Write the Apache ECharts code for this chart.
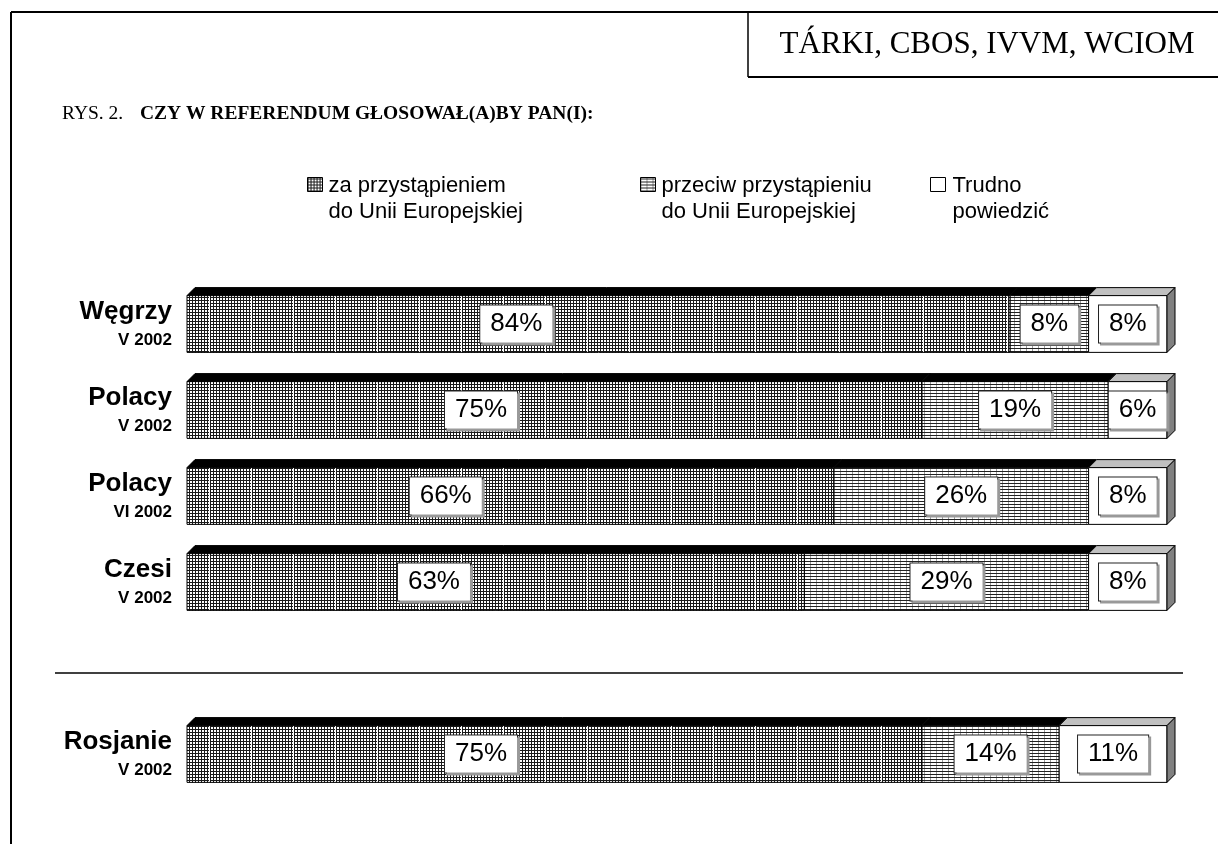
<!DOCTYPE html>
<html>
<head>
<meta charset="utf-8">
<script src="https://cdn.jsdelivr.net/npm/echarts@6/dist/echarts.min.js"></script>
<style>html,body{margin:0;padding:0;background:#fff;}#c{width:1218px;height:844px;}</style>
</head>
<body>
<div id="c"></div>
<script>
// ---- data ----
var countries = ['Węgrzy', 'Polacy', 'Polacy', 'Czesi', '', 'Rosjanie'];
var dates = ['V 2002', 'V 2002', 'VI 2002', 'V 2002', '', 'V 2002'];
var zaValues = [84, 75, 66, 63, null, 75];
var przeciwValues = [8, 19, 26, 29, null, 14];
var trudnoValues = [8, 6, 8, 8, null, 11];
var seriesNames = ['za przystąpieniem\ndo Unii Europejskiej', 'przeciw przystąpieniu\ndo Unii Europejskiej', 'Trudno\npowiedzić'];
var titleNum = 'RYS. 2.';
var titleText = 'CZY W REFERENDUM GŁOSOWAŁ(A)BY PAN(I):';
var sourceText = 'TÁRKI, CBOS, IVVM, WCIOM';

// ---- patterns ----
function makePattern1() {
  var c = document.createElement('canvas'); c.width = 42; c.height = 3;
  var g = c.getContext('2d');
  g.fillStyle = '#fff'; g.fillRect(0, 0, 42, 3);
  g.fillStyle = '#1a1a1a';
  for (var x = 0; x < 41; x++) { if (x % 3 === 0) g.fillRect(x, 0, 1, 3); }
  g.fillRect(0, 0, 41, 1);
  return c;
}
function makePattern2() {
  var c = document.createElement('canvas'); c.width = 6; c.height = 3;
  var g = c.getContext('2d');
  g.fillStyle = '#fff'; g.fillRect(0, 0, 6, 3);
  g.fillStyle = '#9a9a9a'; g.fillRect(0, 0, 1, 3);
  g.fillStyle = '#222'; g.fillRect(0, 0, 6, 1);
  return c;
}
var pat1 = { image: makePattern1(), repeat: 'repeat' };
var pat2 = { image: makePattern2(), repeat: 'repeat' };

var categories = countries.map(function (c, i) { return c + '|' + dates[i]; });

function buildData(vals, offsets) {
  var out = [];
  for (var i = 0; i < vals.length; i++) {
    if (vals[i] == null) continue;
    var s = offsets ? offsets[i] : 0;
    out.push([i, s, s + vals[i], vals[i]]);
  }
  return out;
}
var off2 = zaValues.map(function (v) { return v; });
var off3 = zaValues.map(function (v, i) { return v == null ? null : v + przeciwValues[i]; });

var FONT = '"Liberation Sans", Arial, sans-serif';
var SERIF = '"Liberation Serif", "Times New Roman", serif';

function makeRender(fill, topColor, isLast, frac) {
  return function (params, api) {
    var cat = api.value(0), s = api.value(1), e = api.value(2), v = api.value(3);
    var p0 = api.coord([s, cat]), p1 = api.coord([e, cat]);
    var h = api.size([0, 1])[1] * 0.66;
    var d = 8;
    var x0 = p0[0], x1 = p1[0], yc = p0[1], yt = yc - h / 2;
    var children = [
      { type: 'polygon', shape: { points: [[x0, yt], [x1, yt], [x1 + d, yt - d], [x0 + d, yt - d]] },
        style: { fill: topColor, stroke: '#000', lineWidth: 1 } },
      { type: 'rect', shape: { x: x0, y: yt, width: x1 - x0, height: h },
        style: { fill: fill, stroke: '#000', lineWidth: 1 } }
    ];
    if (isLast) {
      children.push({ type: 'polygon', shape: { points: [[x1, yt], [x1 + d, yt - d], [x1 + d, yt + h - d], [x1, yt + h]] },
        style: { fill: '#808080', stroke: '#000', lineWidth: 1 } });
    }
    children.push({ type: 'text', style: {
      text: v + '%', x: x0 + (x1 - x0) * frac, y: yc, align: 'center', verticalAlign: 'middle',
      font: '26px ' + FONT, lineHeight: 28, fill: '#000', backgroundColor: '#fff', borderColor: '#222', borderWidth: 1,
      padding: [5, 10, 4, 10], shadowColor: '#999', shadowOffsetX: 2, shadowOffsetY: 2, shadowBlur: 0
    } });
    return { type: 'group', children: children };
  };
}

var chart = echarts.init(document.getElementById('c'), null, { renderer: 'canvas' });

var legendIcon = 'path://M0,0 M0,52 M0,5h15v14h-15z';
function legendFor(name, left, textGap) {
  return {
    data: [{ name: name, icon: legendIcon }], left: left, top: 172, orient: 'horizontal', padding: 0,
    itemWidth: 15, itemHeight: 52, itemGap: 0, selectedMode: false,
    textStyle: { fontFamily: FONT, fontSize: 22, color: '#000', lineHeight: 26, padding: [0, 0, 0, textGap] },
    itemStyle: { borderColor: '#000', borderWidth: 1 }
  };
}

chart.setOption({
  animation: false,
  backgroundColor: '#fff',
  grid: { left: 187, right: 51, top: 281, bottom: 47, containLabel: false },
  legend: [legendFor(seriesNames[0], 307, 1), legendFor(seriesNames[1], 640, 1), legendFor(seriesNames[2], 930, 2)],
  xAxis: { type: 'value', min: 0, max: 100, show: false },
  yAxis: {
    type: 'category', data: categories, inverse: true,
    axisLine: { show: false }, axisTick: { show: false }, splitLine: { show: false },
    axisLabel: {
      margin: 15, align: 'right',
      formatter: function (val) {
        var parts = val.split('|');
        if (!parts[0]) return '';
        return '{a|' + parts[0] + '}\n{b|' + parts[1] + '}';
      },
      rich: {
        a: { fontFamily: FONT, fontWeight: 'bold', fontSize: 26, color: '#000', lineHeight: 32, align: 'right' },
        b: { fontFamily: FONT, fontWeight: 'bold', fontSize: 17, color: '#000', lineHeight: 24, align: 'right' }
      }
    }
  },
  series: [
    { type: 'custom', name: seriesNames[0], itemStyle: { color: pat1 }, renderItem: makeRender(pat1, '#000', false, 0.4),
      encode: { x: [1, 2], y: 0 }, data: buildData(zaValues, null) },
    { type: 'custom', name: seriesNames[1], itemStyle: { color: pat2 }, renderItem: makeRender(pat2, '#000', false, 0.5),
      encode: { x: [1, 2], y: 0 }, data: buildData(przeciwValues, off2) },
    { type: 'custom', name: seriesNames[2], itemStyle: { color: '#fff' }, renderItem: makeRender('#fff', '#c0c0c0', true, 0.5),
      encode: { x: [1, 2], y: 0 }, data: buildData(trudnoValues, off3) }
  ],
  graphic: [
    { type: 'line', shape: { x1: 11, y1: 12, x2: 1218, y2: 12 }, style: { stroke: '#000', lineWidth: 2 } },
    { type: 'line', shape: { x1: 11, y1: 12, x2: 11, y2: 844 }, style: { stroke: '#000', lineWidth: 2 } },
    { type: 'line', shape: { x1: 748, y1: 12, x2: 748, y2: 77 }, style: { stroke: '#000', lineWidth: 1.5 } },
    { type: 'line', shape: { x1: 748, y1: 77, x2: 1218, y2: 77 }, style: { stroke: '#000', lineWidth: 2 } },
    { type: 'text', x: 987, y: 45, style: { text: sourceText, font: '31px ' + SERIF, fill: '#000', align: 'center', verticalAlign: 'middle' } },
    { type: 'text', x: 62, y: 114, style: {
      text: '{a|' + titleNum + '}     {b|' + titleText + '}', verticalAlign: 'middle', align: 'left',
      rich: { a: { fontFamily: SERIF, fontSize: 19.5, fill: '#000' }, b: { fontFamily: SERIF, fontSize: 19.5, fontWeight: 'bold', fill: '#000' } }
    } },
    { type: 'line', shape: { x1: 55, y1: 673, x2: 1183, y2: 673 }, style: { stroke: '#000', lineWidth: 1.5 } }
  ]
});
</script>
</body>
</html>
